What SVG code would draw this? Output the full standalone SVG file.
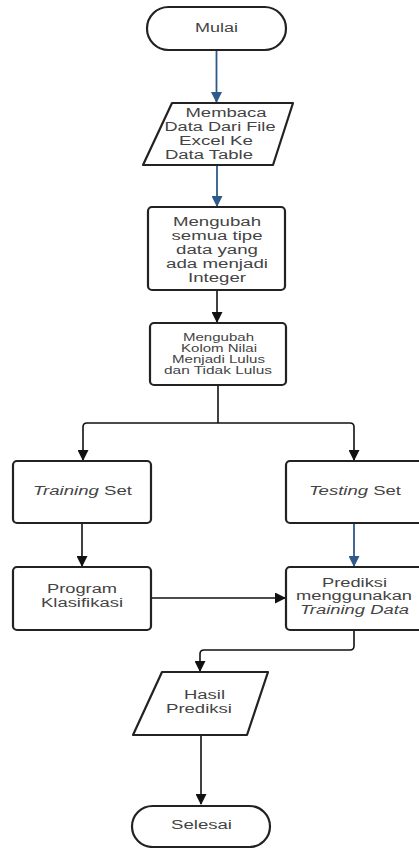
<svg xmlns="http://www.w3.org/2000/svg" width="419" height="848" viewBox="0 0 419 848">
<style>
.n{fill:#fff;stroke:#222;stroke-width:2.2;stroke-linejoin:round}
.t{font-family:"Liberation Sans",Arial,sans-serif;fill:#444;text-anchor:middle;font-size:12px}
.s{font-size:10px}
.i{font-style:italic}
.c{fill:none;stroke:#111;stroke-width:1.6}
.b{fill:none;stroke:#2d5a8a;stroke-width:1.8}
</style>
<defs>
<marker id="ak" markerWidth="11" markerHeight="11" refX="10" refY="5.5" orient="auto" markerUnits="userSpaceOnUse"><path d="M0,0 L11,5.5 L0,11 Z" fill="#111"/></marker>
<marker id="ab" markerWidth="11" markerHeight="11" refX="10" refY="5.5" orient="auto" markerUnits="userSpaceOnUse"><path d="M0,0 L11,5.5 L0,11 Z" fill="#2d5a8a"/></marker>
</defs>
<rect width="419" height="848" fill="#fff"/>
<g id="connectors">
<path class="b" d="M216.5,50 V102" marker-end="url(#ab)"/>
<path class="b" d="M217,165 V206" marker-end="url(#ab)"/>
<path class="c" d="M217,290 V322" marker-end="url(#ak)"/>
<path class="c" d="M218,385 V423"/>
<path class="c" d="M218,423 H87 Q83,423 83,427 V460" marker-end="url(#ak)"/>
<path class="c" d="M218,423 H350 Q354,423 354,427 V460" marker-end="url(#ak)"/>
<path class="c" d="M82,523 V566" marker-end="url(#ak)"/>
<path class="b" d="M354,523 V566" marker-end="url(#ab)"/>
<path class="c" d="M151,598 H285" marker-end="url(#ak)"/>
<path class="c" d="M354,630 V646 Q354,650 350,650 H204 Q200,650 200,654 V671" marker-end="url(#ak)"/>
<path class="c" d="M201,735 V804" marker-end="url(#ak)"/>
</g>
<g id="mulai">
<rect class="n" x="147" y="7" width="139" height="43" rx="21.5"/>
<text class="t" x="216.5" y="32" textLength="43" lengthAdjust="spacingAndGlyphs">Mulai</text>
</g>
<g id="membaca">
<polygon class="n" points="172,103 293,103 273,165 143,165"/>
<text class="t" x="226" y="117" textLength="81" lengthAdjust="spacingAndGlyphs">Membaca</text>
<text class="t" x="220" y="131" textLength="111" lengthAdjust="spacingAndGlyphs">Data Dari File</text>
<text class="t" x="216" y="145" textLength="74" lengthAdjust="spacingAndGlyphs">Excel Ke</text>
<text class="t" x="209" y="159" textLength="88" lengthAdjust="spacingAndGlyphs">Data Table</text>
</g>
<g id="mengubah1">
<rect class="n" x="148" y="207" width="137" height="83" rx="4"/>
<text class="t" x="217" y="226" textLength="88" lengthAdjust="spacingAndGlyphs">Mengubah</text>
<text class="t" x="217" y="240" textLength="91" lengthAdjust="spacingAndGlyphs">semua tipe</text>
<text class="t" x="217" y="254" textLength="82" lengthAdjust="spacingAndGlyphs">data yang</text>
<text class="t" x="217" y="268" textLength="102" lengthAdjust="spacingAndGlyphs">ada menjadi</text>
<text class="t" x="217" y="282" textLength="58" lengthAdjust="spacingAndGlyphs">Integer</text>
</g>
<g id="mengubah2">
<rect class="n" x="150" y="323" width="136" height="62" rx="4"/>
<text class="t s" x="218.5" y="341" textLength="71" lengthAdjust="spacingAndGlyphs">Mengubah</text>
<text class="t s" x="219" y="352" textLength="76" lengthAdjust="spacingAndGlyphs">Kolom Nilai</text>
<text class="t s" x="218.5" y="363" textLength="93" lengthAdjust="spacingAndGlyphs">Menjadi Lulus</text>
<text class="t s" x="218" y="374" textLength="108" lengthAdjust="spacingAndGlyphs">dan Tidak Lulus</text>
</g>
<g id="training">
<rect class="n" x="13" y="461" width="138" height="62" rx="4"/>
<text class="t" x="82.5" y="495" textLength="99" lengthAdjust="spacingAndGlyphs"><tspan class="i">Training</tspan> Set</text>
</g>
<g id="testing">
<rect class="n" x="286" y="461" width="138" height="62" rx="4"/>
<text class="t" x="355" y="495" textLength="92" lengthAdjust="spacingAndGlyphs"><tspan class="i">Testing</tspan> Set</text>
</g>
<g id="program">
<rect class="n" x="13" y="567" width="138" height="63" rx="4"/>
<text class="t" x="82" y="593" textLength="70" lengthAdjust="spacingAndGlyphs">Program</text>
<text class="t" x="82" y="607" textLength="82" lengthAdjust="spacingAndGlyphs">Klasifikasi</text>
</g>
<g id="prediksi">
<rect class="n" x="286" y="567" width="138" height="63" rx="4"/>
<text class="t" x="354.5" y="587" textLength="65" lengthAdjust="spacingAndGlyphs">Prediksi</text>
<text class="t" x="354" y="600" textLength="116" lengthAdjust="spacingAndGlyphs">menggunakan</text>
<text class="t i" x="354.5" y="614" textLength="109" lengthAdjust="spacingAndGlyphs">Training Data</text>
</g>
<g id="hasil">
<polygon class="n" points="162,672 268,672 247,735 133,735"/>
<text class="t" x="204.5" y="699" textLength="41" lengthAdjust="spacingAndGlyphs">Hasil</text>
<text class="t" x="199" y="713" textLength="66" lengthAdjust="spacingAndGlyphs">Prediksi</text>
</g>
<g id="selesai">
<rect class="n" x="132" y="806" width="138" height="41" rx="20.5"/>
<text class="t" x="201.5" y="829" textLength="61" lengthAdjust="spacingAndGlyphs">Selesai</text>
</g>
</svg>
